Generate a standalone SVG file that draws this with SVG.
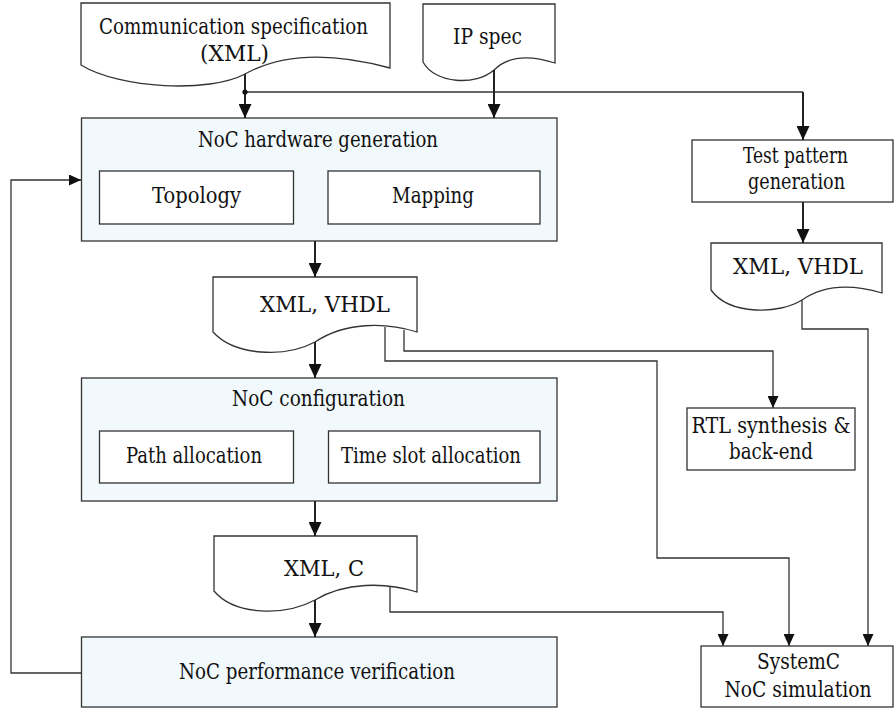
<svg xmlns="http://www.w3.org/2000/svg" width="896" height="709" viewBox="0 0 896 709">
  <style>
    .box { fill: #ffffff; stroke: #333333; stroke-width: 1.3; }
    .stage { fill: #f1f9fc; stroke: #333333; stroke-width: 1.3; }
    .doc { fill: #ffffff; stroke: #333333; stroke-width: 1.3; }
    .lbl { font-family: 'DejaVu Serif', 'Liberation Serif', serif; font-size: 21.5px; fill: #111111; text-anchor: middle; }
    .main { fill: none; stroke: #222222; stroke-width: 2; }
    .thin { fill: none; stroke: #333333; stroke-width: 1.3; }
  </style>
  <defs>
    <marker id="arrowBig" markerUnits="userSpaceOnUse" markerWidth="14" markerHeight="13" viewBox="0 0 14 13" refX="14" refY="6.5" orient="auto">
      <path d="M0,0 L14,6.5 L0,13 Z" fill="#111111"/>
    </marker>
    <marker id="arrowSmall" markerUnits="userSpaceOnUse" markerWidth="12" markerHeight="11" viewBox="0 0 12 11" refX="12" refY="5.5" orient="auto">
      <path d="M0,0 L12,5.5 L0,11 Z" fill="#111111"/>
    </marker>
  </defs>

  <!-- input documents -->
  <g id="comm-spec">
    <path class="doc" d="M81,3 H390 V68 C335,53 285,52 245,74 C210,93 120,89 81,65 Z"/>
    <text class="lbl" x="233.5" y="34" textLength="269" lengthAdjust="spacingAndGlyphs">Communication specification</text>
    <text class="lbl" x="234.5" y="61" textLength="69" lengthAdjust="spacingAndGlyphs">(XML)</text>
  </g>
  <g id="ip-spec">
    <path class="doc" d="M423,4 H555 V63 C530,55 508,56 494,70 C476,86 435,84 423,62 Z"/>
    <text class="lbl" x="487.5" y="44" textLength="69" lengthAdjust="spacingAndGlyphs">IP spec</text>
  </g>

  <!-- NoC hardware generation -->
  <g id="hw-gen">
    <rect class="stage" x="81.5" y="118" width="475.5" height="123"/>
    <text class="lbl" x="318" y="147" textLength="240" lengthAdjust="spacingAndGlyphs">NoC hardware generation</text>
  </g>
  <g id="topology">
    <rect class="box" x="99.5" y="171" width="194" height="53"/>
    <text class="lbl" x="196.5" y="203" textLength="89" lengthAdjust="spacingAndGlyphs">Topology</text>
  </g>
  <g id="mapping">
    <rect class="box" x="328" y="171" width="212" height="53"/>
    <text class="lbl" x="433" y="203" textLength="82" lengthAdjust="spacingAndGlyphs">Mapping</text>
  </g>

  <!-- hardware description output -->
  <g id="hw-out">
    <path class="doc" d="M213,277 H417 V332 C385,322 345,322 315,342 C285,358 235,356 213,332 Z"/>
    <text class="lbl" x="325" y="312" textLength="130" lengthAdjust="spacingAndGlyphs">XML, VHDL</text>
  </g>

  <!-- NoC configuration -->
  <g id="config">
    <rect class="stage" x="81.5" y="378" width="475.5" height="123"/>
    <text class="lbl" x="318.5" y="406" textLength="173" lengthAdjust="spacingAndGlyphs">NoC configuration</text>
  </g>
  <g id="path-alloc">
    <rect class="box" x="99.5" y="431" width="194" height="52"/>
    <text class="lbl" x="194" y="463" textLength="136" lengthAdjust="spacingAndGlyphs">Path allocation</text>
  </g>
  <g id="slot-alloc">
    <rect class="box" x="328.5" y="431" width="211.5" height="52"/>
    <text class="lbl" x="431" y="463" textLength="180" lengthAdjust="spacingAndGlyphs">Time slot allocation</text>
  </g>

  <!-- configuration output -->
  <g id="cfg-out">
    <path class="doc" d="M214,536 H417 V592 C385,582 345,582 315,600 C285,616 235,616 214,591 Z"/>
    <text class="lbl" x="324" y="576" textLength="80" lengthAdjust="spacingAndGlyphs">XML, C</text>
  </g>

  <!-- NoC performance verification -->
  <g id="perf">
    <rect class="stage" x="81.5" y="637" width="475.5" height="70"/>
    <text class="lbl" x="317" y="679" textLength="276" lengthAdjust="spacingAndGlyphs">NoC performance verification</text>
  </g>

  <!-- test flow on the right -->
  <g id="test-gen">
    <rect class="box" x="692" y="140" width="201" height="62"/>
    <text class="lbl" x="795.5" y="163" textLength="105" lengthAdjust="spacingAndGlyphs">Test pattern</text>
    <text class="lbl" x="796.5" y="189" textLength="97" lengthAdjust="spacingAndGlyphs">generation</text>
  </g>
  <g id="test-out">
    <path class="doc" d="M711,243 H882 V293 C855,285 825,284 802,300 C780,314 730,316 711,290 Z"/>
    <text class="lbl" x="798" y="274" textLength="130" lengthAdjust="spacingAndGlyphs">XML, VHDL</text>
  </g>
  <g id="rtl">
    <rect class="box" x="687" y="408" width="168" height="62"/>
    <text class="lbl" x="771" y="433" textLength="159" lengthAdjust="spacingAndGlyphs">RTL synthesis &amp;</text>
    <text class="lbl" x="771" y="459" textLength="84" lengthAdjust="spacingAndGlyphs">back-end</text>
  </g>
  <g id="systemc">
    <rect class="box" x="701" y="646" width="192" height="61"/>
    <text class="lbl" x="798.5" y="669" textLength="83" lengthAdjust="spacingAndGlyphs">SystemC</text>
    <text class="lbl" x="798" y="697" textLength="147" lengthAdjust="spacingAndGlyphs">NoC simulation</text>
  </g>

  <!-- connectors -->
  <g id="connectors">
    <path class="main" d="M245,74 V118" marker-end="url(#arrowBig)"/>
    <path class="thin" d="M245,92 H803"/>
    <circle cx="245" cy="92" r="2.6" fill="#111111"/>
    <path class="main" d="M803,92 V140" marker-end="url(#arrowBig)"/>
    <path class="main" d="M494,70 V118" marker-end="url(#arrowBig)"/>
    <path class="main" d="M315,241 V277" marker-end="url(#arrowBig)"/>
    <path class="main" d="M803,202 V243" marker-end="url(#arrowBig)"/>
    <path class="main" d="M315,342 V378" marker-end="url(#arrowBig)"/>
    <path class="main" d="M315,501 V536" marker-end="url(#arrowBig)"/>
    <path class="main" d="M315,600 V637" marker-end="url(#arrowBig)"/>
    <path class="thin" d="M81,673 H11 V180 H81" marker-end="url(#arrowSmall)"/>
    <path class="thin" d="M404,330 V351 H773 V408" marker-end="url(#arrowSmall)"/>
    <path class="thin" d="M385,327 V361 H657 V558 H789 V646" marker-end="url(#arrowSmall)"/>
    <path class="thin" d="M390,587 V612 H723 V646" marker-end="url(#arrowSmall)"/>
    <path class="thin" d="M802,300 V329 H868 V646" marker-end="url(#arrowSmall)"/>
  </g>
</svg>
